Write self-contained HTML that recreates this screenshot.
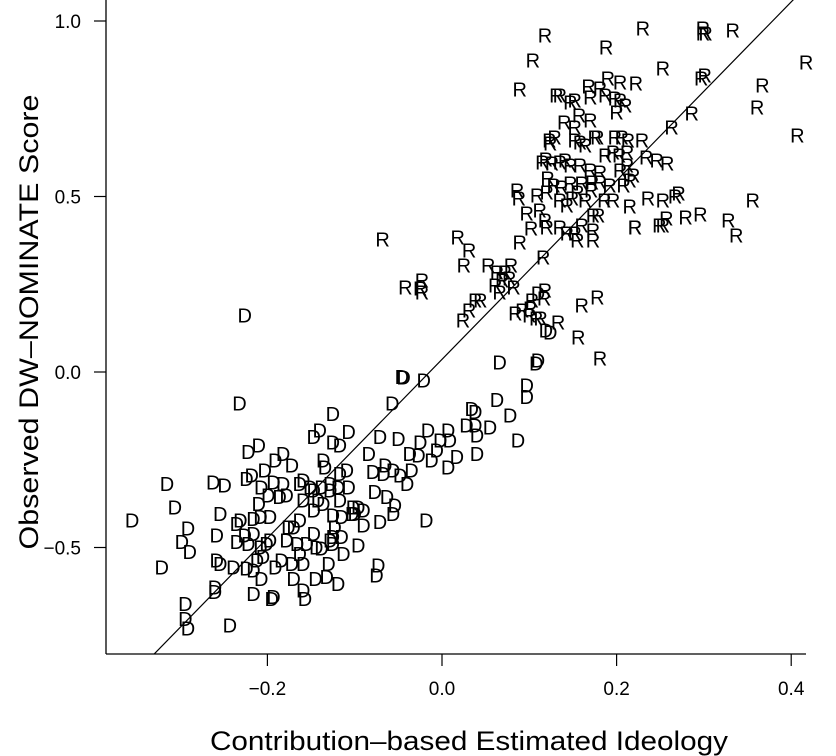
<!DOCTYPE html>
<html><head><meta charset="utf-8"><style>
html,body{margin:0;padding:0;background:#fff;}
svg{display:block;font-family:"Liberation Sans",Arial,sans-serif;}
</style></head><body>
<svg id="chart" width="836" height="756" viewBox="0 0 836 756" xmlns="http://www.w3.org/2000/svg">
<defs><clipPath id="clip"><rect x="106" y="0" width="700" height="654"/></clipPath></defs>
<g id="axes"></g>
<g id="marks"></g>
</svg>
<script>
const xTicks = [-0.2, 0.0, 0.2, 0.4];
const xTickLabels = ["\u22120.2", "0.0", "0.2", "0.4"];
const yTicks = [-0.5, 0.0, 0.5, 1.0];
const yTickLabels = ["\u22120.5", "0.0", "0.5", "1.0"];
const fitIntercept = 0.036;
const fitSlope = 2.546;
const repX = [0.230,0.299,0.299,0.302,0.333,0.118,0.104,0.188,0.253,0.301,0.297,0.367,0.089,0.361,0.407,0.131,0.135,0.152,0.170,0.187,0.198,0.204,0.210,0.147,0.200,0.157,0.170,0.152,0.286,0.263,0.190,0.204,0.222,0.168,0.181,0.140,0.152,0.175,0.124,0.123,0.129,0.158,0.164,0.178,0.198,0.206,0.213,0.229,0.234,0.258,0.246,0.196,0.203,0.212,0.187,0.115,0.119,0.126,0.135,0.141,0.147,0.158,0.170,0.181,0.204,0.212,0.219,0.215,0.208,0.121,0.128,0.137,0.147,0.160,0.172,0.181,0.192,0.171,0.155,0.135,0.143,0.109,0.120,0.086,0.088,0.149,0.164,0.186,0.215,0.196,0.236,0.253,0.271,0.267,0.356,0.097,0.112,0.118,0.102,0.120,0.135,0.143,0.152,0.160,0.173,0.179,0.173,0.155,0.173,0.221,0.221,0.257,0.249,0.279,0.328,0.337,0.296,0.253,0.089,0.031,0.079,0.025,0.053,0.063,0.072,0.116,-0.023,-0.042,-0.025,-0.023,0.061,0.066,0.069,0.077,0.082,0.038,0.044,0.118,0.117,0.103,0.101,0.092,0.084,0.100,0.108,0.113,0.031,0.024,0.160,0.178,0.133,0.156,0.181,-0.068,0.018,0.417];
const repY = [0.980,0.980,0.966,0.966,0.974,0.960,0.889,0.926,0.866,0.846,0.838,0.818,0.806,0.755,0.675,0.789,0.789,0.775,0.783,0.789,0.781,0.775,0.761,0.769,0.741,0.732,0.718,0.698,0.738,0.698,0.838,0.826,0.823,0.815,0.809,0.712,0.661,0.670,0.652,0.661,0.670,0.655,0.647,0.670,0.670,0.670,0.661,0.661,0.613,0.595,0.604,0.627,0.618,0.627,0.618,0.598,0.607,0.595,0.598,0.604,0.590,0.590,0.575,0.570,0.575,0.590,0.561,0.547,0.533,0.553,0.533,0.527,0.538,0.538,0.541,0.541,0.533,0.519,0.513,0.490,0.476,0.504,0.513,0.519,0.496,0.496,0.490,0.490,0.473,0.490,0.496,0.490,0.510,0.501,0.490,0.453,0.462,0.433,0.410,0.413,0.413,0.396,0.396,0.419,0.447,0.447,0.405,0.376,0.376,0.413,0.413,0.439,0.419,0.442,0.433,0.390,0.450,0.419,0.370,0.348,0.305,0.305,0.305,0.285,0.285,0.328,0.262,0.242,0.239,0.228,0.248,0.228,0.262,0.268,0.242,0.205,0.205,0.234,0.211,0.205,0.182,0.177,0.168,0.162,0.154,0.154,0.177,0.148,0.191,0.214,0.142,0.100,0.040,0.379,0.385,0.883];
const demX = [-0.046,-0.021,-0.232,-0.125,-0.057,0.034,0.038,0.063,0.078,0.097,0.097,0.108,0.087,0.040,0.055,0.028,0.038,0.040,0.007,0.009,0.017,0.007,-0.002,-0.016,-0.006,-0.012,-0.025,-0.027,-0.037,-0.035,-0.040,-0.048,-0.056,-0.065,-0.067,-0.079,-0.071,-0.050,-0.084,-0.107,-0.117,-0.125,-0.140,-0.147,-0.136,-0.134,-0.109,-0.117,-0.107,-0.119,-0.128,-0.138,-0.147,-0.159,-0.142,-0.136,-0.147,-0.159,-0.163,-0.170,-0.176,-0.178,-0.166,-0.155,-0.144,-0.163,-0.172,-0.184,-0.170,-0.159,-0.157,-0.145,-0.132,-0.130,-0.119,-0.113,-0.115,-0.123,-0.125,-0.115,-0.103,-0.090,-0.096,-0.090,-0.102,-0.077,-0.063,-0.054,-0.056,-0.071,-0.018,-0.096,-0.073,-0.075,-0.193,-0.195,-0.216,-0.207,-0.191,-0.216,-0.224,-0.212,-0.205,-0.239,-0.254,-0.260,-0.260,-0.258,-0.289,-0.298,-0.291,-0.321,-0.294,-0.294,-0.291,-0.243,-0.355,-0.306,-0.315,-0.262,-0.249,-0.224,-0.218,-0.210,-0.222,-0.203,-0.207,-0.193,-0.182,-0.191,-0.182,-0.172,-0.186,-0.178,-0.199,-0.210,-0.208,-0.197,-0.216,-0.231,-0.235,-0.254,-0.258,-0.235,-0.222,-0.208,-0.201,-0.197,-0.216,-0.226,-0.163,-0.151,-0.128,-0.117,-0.125,-0.147,-0.138,-0.128,-0.125,-0.159,-0.100,0.066,0.110,0.119,0.110,0.124,-0.226,-0.044];
const demY = [-0.013,-0.023,-0.089,-0.118,-0.089,-0.104,-0.113,-0.078,-0.123,-0.037,-0.070,0.025,-0.194,-0.232,-0.156,-0.151,-0.151,-0.179,-0.165,-0.194,-0.241,-0.270,-0.194,-0.165,-0.222,-0.251,-0.199,-0.236,-0.232,-0.279,-0.317,-0.293,-0.279,-0.265,-0.289,-0.284,-0.184,-0.189,-0.232,-0.170,-0.208,-0.199,-0.165,-0.184,-0.251,-0.270,-0.279,-0.289,-0.327,-0.327,-0.317,-0.327,-0.336,-0.308,-0.365,-0.374,-0.393,-0.365,-0.422,-0.441,-0.441,-0.479,-0.488,-0.488,-0.498,-0.517,-0.545,-0.536,-0.588,-0.621,-0.645,-0.588,-0.583,-0.545,-0.602,-0.517,-0.469,-0.441,-0.469,-0.412,-0.403,-0.393,-0.384,-0.436,-0.384,-0.341,-0.355,-0.379,-0.403,-0.426,-0.422,-0.493,-0.550,-0.578,-0.640,-0.645,-0.631,-0.588,-0.555,-0.564,-0.559,-0.536,-0.526,-0.555,-0.545,-0.612,-0.626,-0.536,-0.512,-0.483,-0.445,-0.555,-0.659,-0.702,-0.730,-0.721,-0.422,-0.384,-0.317,-0.313,-0.322,-0.303,-0.293,-0.208,-0.227,-0.279,-0.327,-0.313,-0.317,-0.251,-0.232,-0.265,-0.355,-0.350,-0.350,-0.374,-0.412,-0.412,-0.417,-0.422,-0.431,-0.403,-0.464,-0.483,-0.488,-0.498,-0.488,-0.479,-0.460,-0.464,-0.317,-0.327,-0.336,-0.365,-0.407,-0.460,-0.502,-0.479,-0.488,-0.545,-0.403,0.028,0.034,0.120,0.225,0.114,0.162,-0.014];

const X0 = 442, XS = 873, Y0 = 372, YS = 351;
function sx(v){ return X0 + v * XS; }
function sy(v){ return Y0 - v * YS; }
const NS = "http://www.w3.org/2000/svg";
const axes = document.getElementById('axes');
const marks = document.getElementById('marks');
function mk(tag, attrs, parent){
  const e = document.createElementNS(NS, tag);
  for (const k in attrs) e.setAttribute(k, attrs[k]);
  parent.appendChild(e);
  return e;
}
let l = mk('line', {x1:106, y1:0, x2:106, y2:654, stroke:'#000', 'stroke-width':1.3}, axes);


l = mk('line', {x1:106, y1:654, x2:806, y2:654, stroke:'#000', 'stroke-width':1.3}, axes);


xTicks.forEach((v, i) => {
  const t = mk('line', {x1:sx(v), y1:654, x2:sx(v), y2:666, stroke:'#000', 'stroke-width':1.2}, axes);
  
  
  const tx = mk('text', {x:sx(v), y:695, 'font-size':19, 'text-anchor':'middle'}, axes);
  tx.textContent = xTickLabels[i];
  
  
});
yTicks.forEach((v, i) => {
  const t = mk('line', {x1:94, y1:sy(v), x2:106, y2:sy(v), stroke:'#000', 'stroke-width':1.2}, axes);
  
  
  const tx = mk('text', {x:81, y:sy(v)+7, 'font-size':19, 'text-anchor':'end'}, axes);
  tx.textContent = yTickLabels[i];
  
  
});
let title = mk('text', {x:469, y:750, 'font-size':27, 'text-anchor':'middle', textLength:518, lengthAdjust:'spacingAndGlyphs'}, axes);
title.textContent = 'Contribution\u2013based Estimated Ideology';


title = mk('text', {x:0, y:0, 'font-size':27, 'text-anchor':'middle', textLength:455, lengthAdjust:'spacingAndGlyphs', transform:'translate(38,322) rotate(-90)'}, axes);
title.textContent = 'Observed DW\u2013NOMINATE Score';


const xa = -0.45, xb = 0.45;
const fit = mk('line', {x1:sx(xa), y1:sy(fitIntercept+fitSlope*xa), x2:sx(xb), y2:sy(fitIntercept+fitSlope*xb), stroke:'#000', 'stroke-width':1.2, 'clip-path':'url(#clip)'}, marks);


function drawPoints(xs, ys, ch, name){
  for (let i = 0; i < xs.length; i++){
    const t = mk('text', {x:sx(xs[i]), y:sy(ys[i]) + 7.5, 'font-size':20, 'text-anchor':'middle'}, marks);
    t.textContent = ch;
    
    
  }
}
drawPoints(demX, demY, 'D', 'democrat-point');
drawPoints(repX, repY, 'R', 'republican-point');
</script>
</body></html>
